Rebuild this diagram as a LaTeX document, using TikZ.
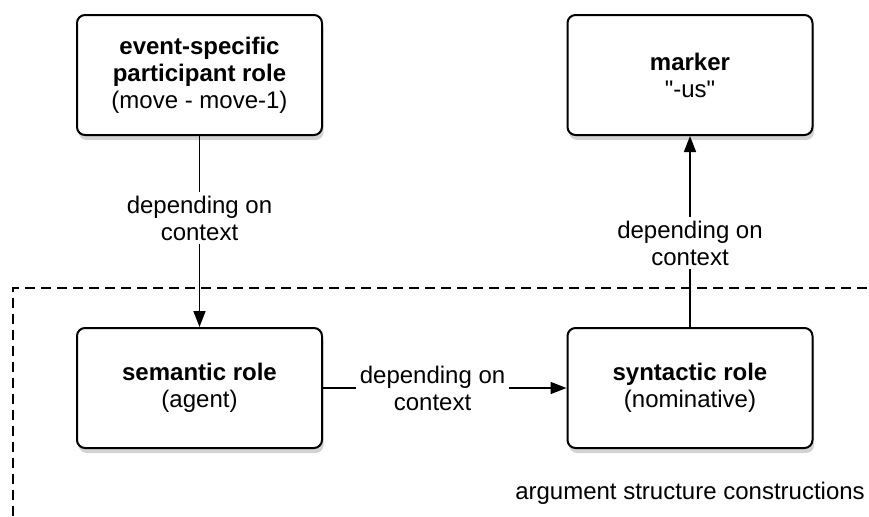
\documentclass[tikz,border=0pt]{standalone}
\usepackage{fontspec}
\setmainfont{Liberation Sans}
\newfontfamily\plainquotes{Liberation Sans}
\usetikzlibrary{arrows.meta,shadows}

\tikzset{
    rolebox/.style={draw, line width=1pt, rounded corners=4pt, fill=white,
        minimum width=122.5pt, minimum height=60pt, align=center,
        font=\fontsize{12}{13.5}\selectfont,
        drop shadow={opacity=0.35, shadow xshift=0.8pt, shadow yshift=-2.5pt}},
    conn/.style={line width=0.85pt, -{Triangle[length=8pt,width=6pt]}},
    lbl/.style={fill=white, align=center, inner sep=2pt,
        font=\fontsize{12}{13.5}\selectfont},
}

\begin{document}
\begin{tikzpicture}[x=0.5pt,y=-0.5pt]
        \useasboundingbox (0,0) rectangle (869,516);
        % construction frame
        \draw[line width=0.75pt, dash pattern=on 5pt off 3pt] (13,516) -- (13,288) -- (869,288);
        \node[rolebox] (event) at (199.5,75) {\textbf{event-specific}\\\textbf{participant role}\\(move - move-1)};
        \node[rolebox] (marker) at (690,75) {\textbf{marker}\\{\plainquotes "-us"}};
        \node[rolebox] (semrole) at (199.5,388) {\textbf{semantic role}\\(agent)};
        \node[rolebox] (synrole) at (690,388) {\textbf{syntactic role}\\(nominative)};
        \node[font=\fontsize{12}{13.5}\selectfont] (asc) at (690,493) {argument structure constructions};
        \draw[conn] (event) -- node[lbl,pos=0.43] {depending on\\context} (semrole);
        \draw[conn] (semrole) -- node[lbl,pos=0.45] {depending on\\context} (synrole);
        \draw[conn] (synrole) -- node[lbl,pos=0.44] {depending on\\context} (marker);
    \end{tikzpicture}
\end{document}
